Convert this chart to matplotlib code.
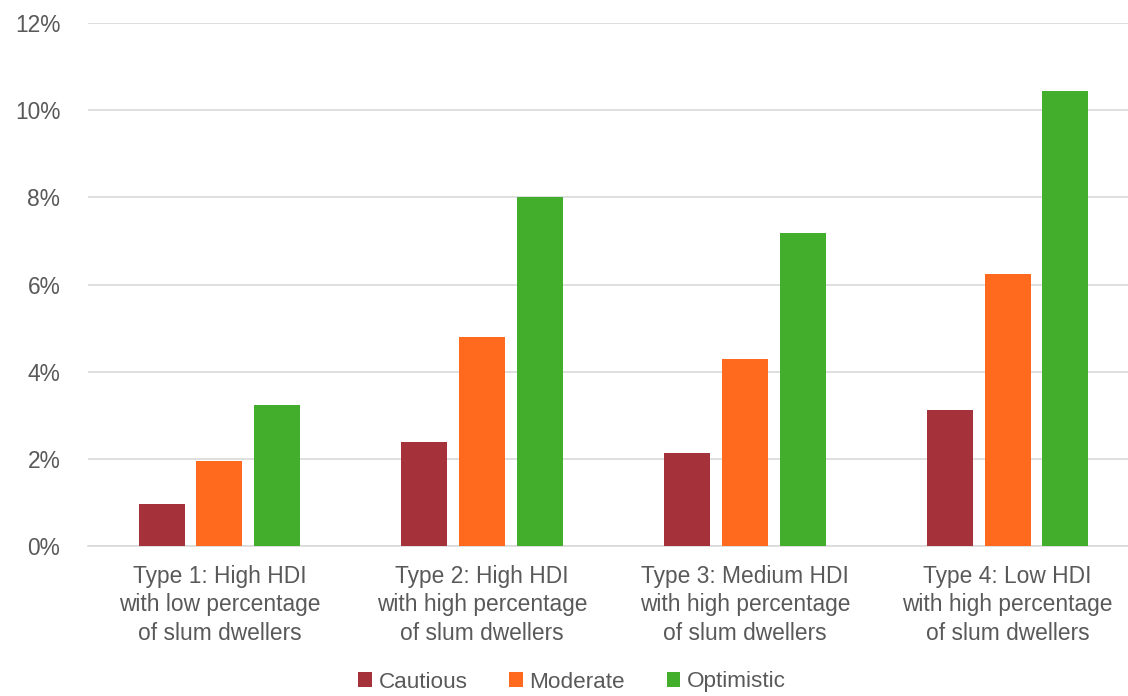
import numpy as np
import matplotlib.pyplot as plt
from matplotlib.ticker import PercentFormatter

plt.rcParams['font.family'] = ['Liberation Sans', 'DejaVu Sans']

categories = ['Type 1: High HDI\nwith low percentage\nof slum dwellers',
              'Type 2: High HDI\nwith high percentage\nof slum dwellers',
              'Type 3: Medium HDI\nwith high percentage\nof slum dwellers',
              'Type 4: Low HDI\nwith high percentage\nof slum dwellers']
cautious = [0.96, 2.38, 2.14, 3.12]
moderate = [1.95, 4.80, 4.30, 6.25]
optimistic = [3.24, 8.01, 7.19, 10.43]

series = [('Cautious', cautious, '#A5323B'),
          ('Moderate', moderate, '#FF6A1E'),
          ('Optimistic', optimistic, '#43AE2B')]

text_col = '#595959'

fig = plt.figure(figsize=(11.28, 6.96), dpi=100)
ax = fig.add_axes([88 / 1128, 1 - 546 / 696, 1051 / 1128, 523 / 696])

x = np.arange(len(categories))
step = 0.22
for i, (name, vals, col) in enumerate(series):
    ax.bar(x + (i - 1) * step, vals, width=0.175, color=col, label=name, zorder=3)

ax.set_xlim(-0.5, 3.5)
ax.set_ylim(0, 12)
ax.set_yticks(np.arange(0, 13, 2))
ax.yaxis.set_major_formatter(PercentFormatter(decimals=0))
ax.grid(axis='y', color='#D9D9D9', linewidth=1.2, zorder=0)
for s in ['top', 'right', 'left']:
    ax.spines[s].set_visible(False)
ax.spines['bottom'].set_color('#D9D9D9')
ax.spines['bottom'].set_linewidth(1.2)
ax.tick_params(axis='both', length=0, labelsize=16.4, colors=text_col)
ax.tick_params(axis='x', pad=14)
ax.tick_params(axis='y', pad=20)
ax.set_xticks(x)
ax.set_xticklabels(categories, linespacing=1.28)
for lbl in ax.get_yticklabels():
    lbl.set_horizontalalignment('right')

leg = fig.legend(loc='center', bbox_to_anchor=(0.507, 1 - 682 / 696), ncol=3,
                 frameon=False, fontsize=16.2, handlelength=0.62, handleheight=0.62,
                 handletextpad=0.28, columnspacing=1.85)
for t in leg.get_texts():
    t.set_color(text_col)

fig.savefig('out.png', dpi=100)
